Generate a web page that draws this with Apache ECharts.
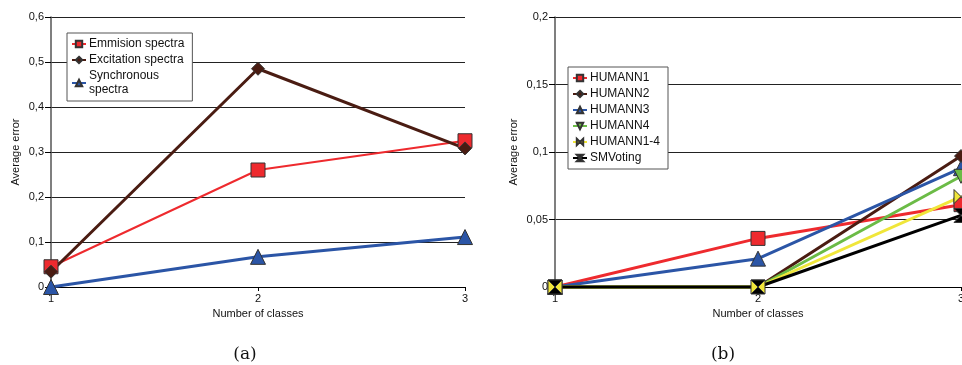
<!DOCTYPE html>
<html><head><meta charset="utf-8">
<script src="https://cdn.jsdelivr.net/npm/echarts@6/dist/echarts.min.js"></script>
<style>html,body{margin:0;padding:0;background:#fff}#c{width:962px;height:365px}</style>
</head><body><div id="c"></div>
<script>
var classes = [1, 2, 3];
var emission = [0.045, 0.26, 0.325];
var excitation = [0.034, 0.485, 0.308];
var synchronous = [0, 0.067, 0.111];
var humann1 = [0, 0.036, 0.061];
var humann2 = [0, 0, 0.097];
var humann3 = [0, 0.021, 0.088];
var humann4 = [0, 0, 0.082];
var humann14 = [0, 0, 0.067];
var smvoting = [0, 0, 0.053];
var leftTicks = ['0', '0,1', '0,2', '0,3', '0,4', '0,5', '0,6'];
var rightTicks = ['0', '0,05', '0,1', '0,15', '0,2'];

function pairs(v) { return classes.map(function (c, i) { return [c, v[i]]; }); }
var font = 'Liberation Sans, Arial, sans-serif';
var bowtie = 'path://M0,0 L5,5 L0,10 Z M10,0 L5,5 L10,10 Z';
var hourglass = 'path://M0,0 L10,0 L5,5 L10,10 L0,10 L5,5 Z';

function mkSeries(name, data, color, symbol, size, width, gi, extra) {
  var s = {
    name: name, type: 'line', xAxisIndex: gi, yAxisIndex: gi,
    data: pairs(data), symbol: symbol, symbolSize: size,
    lineStyle: { color: color, width: width },
    itemStyle: { color: color, borderColor: '#333', borderWidth: 1 },
    emphasis: { disabled: true }, clip: false, animation: false
  };
  if (extra) for (var k in extra) s[k] = extra[k];
  return s;
}

function xAxis(gi) {
  return {
    gridIndex: gi, type: 'value', min: 1, max: 3, interval: 1,
    name: 'Number of classes', nameLocation: 'middle', nameGap: 20,
    nameTextStyle: { fontFamily: font, fontSize: 11, color: '#111' },
    axisLine: { lineStyle: { color: '#000', width: 1 } },
    axisTick: { show: true, length: 4, lineStyle: { color: '#000' } },
    axisLabel: { fontFamily: font, fontSize: 11, color: '#111', margin: 6 },
    splitLine: { show: false }
  };
}
function yAxis(gi, max, interval, ticks, gap) {
  return {
    gridIndex: gi, type: 'value', min: 0, max: max, interval: interval,
    name: 'Average error', nameLocation: 'middle', nameGap: gap,
    nameTextStyle: { fontFamily: font, fontSize: 11, color: '#111' },
    axisLine: { show: true, lineStyle: { color: '#555', width: 1.5 } },
    axisTick: { show: true, length: 6, lineStyle: { color: '#000' } },
    axisLabel: { fontFamily: font, fontSize: 11, color: '#111', margin: 7,
      formatter: function (v) { var i = Math.round(v / interval); return ticks[i]; } },
    splitLine: { show: true, lineStyle: { color: '#222', width: 1 } }
  };
}

var chart = echarts.init(document.getElementById('c'), null, { renderer: 'canvas' });
chart.setOption({
  animation: false,
  backgroundColor: '#fff',
  grid: [
    { left: 51, top: 17, width: 414, height: 270, outerBoundsMode: 'none', containLabel: false },
    { left: 555, top: 17, width: 406, height: 270, outerBoundsMode: 'none', containLabel: false }
  ],
  xAxis: [xAxis(0), xAxis(1)],
  yAxis: [yAxis(0, 0.6, 0.1, leftTicks, 30), yAxis(1, 0.2, 0.05, rightTicks, 36)],
  title: [
    { text: '(a)', left: 240, top: 341, textAlign: 'center',
      textStyle: { fontFamily: 'DejaVu Serif, serif', fontSize: 17, fontWeight: 'normal', color: '#111' } },
    { text: '(b)', left: 718, top: 341, textAlign: 'center',
      textStyle: { fontFamily: 'DejaVu Serif, serif', fontSize: 17, fontWeight: 'normal', color: '#111' } }
  ],
  legend: [
    { data: ['Emmision spectra', 'Excitation spectra', 'Synchronous spectra'],
      orient: 'vertical', left: 67, top: 33, itemGap: 2, itemWidth: 14, itemHeight: 8,
      padding: [4, 8, 4, 4], borderColor: '#555', borderWidth: 1, backgroundColor: '#fff',
      formatter: function (n) { return n === 'Synchronous spectra' ? 'Synchronous\nspectra' : n; },
      textStyle: { fontFamily: font, fontSize: 12, color: '#111', lineHeight: 14, padding: [0, 0, 0, -2] } },
    { data: ['HUMANN1', 'HUMANN2', 'HUMANN3', 'HUMANN4', 'HUMANN1-4', 'SMVoting'],
      orient: 'vertical', left: 568, top: 67, itemGap: 2, itemWidth: 14, itemHeight: 8,
      padding: [4, 8, 4, 4], borderColor: '#555', borderWidth: 1, backgroundColor: '#fff',
      textStyle: { fontFamily: font, fontSize: 12, color: '#111', lineHeight: 14, padding: [0, 0, 0, -2] } }
  ],
  series: [
    mkSeries('Emmision spectra', emission, '#ee2a2e', 'rect', 14, 2, 0),
    mkSeries('Excitation spectra', excitation, '#4a1c12', 'diamond', 13, 3, 0),
    mkSeries('Synchronous spectra', synchronous, '#2b55a6', 'triangle', 15, 3, 0),
    mkSeries('HUMANN1', humann1, '#ee2a2e', 'rect', 14, 3, 1),
    mkSeries('HUMANN2', humann2, '#4a1c12', 'diamond', 13, 3, 1),
    mkSeries('HUMANN3', humann3, '#2b55a6', 'triangle', 15, 3, 1),
    mkSeries('HUMANN4', humann4, '#6bbb46', 'triangle', 14, 3, 1, { symbolRotate: 180 }),
    mkSeries('HUMANN1-4', humann14, '#f0e63a', bowtie, 14, 3, 1),
    mkSeries('SMVoting', smvoting, '#000000', hourglass, 14, 3, 1)
  ]
});
</script></body></html>
